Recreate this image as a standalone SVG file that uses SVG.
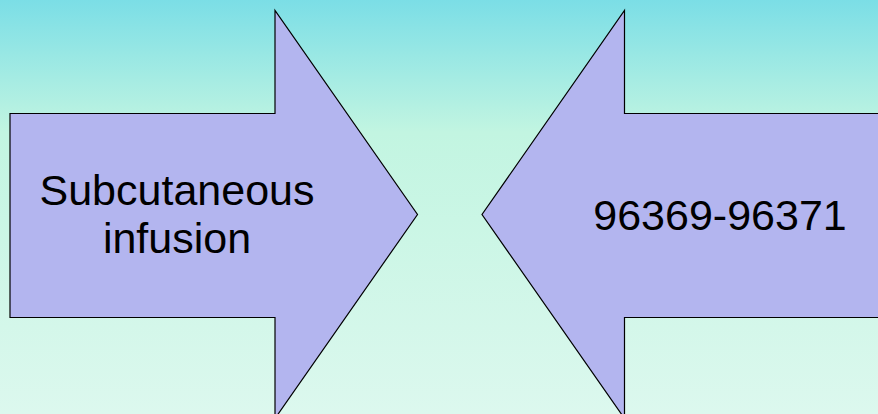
<svg xmlns="http://www.w3.org/2000/svg" width="878" height="414" viewBox="0 0 878 414">
<defs>
<linearGradient id="bg" x1="0" y1="0" x2="0" y2="1">
<stop offset="0" stop-color="#7bdee6"/>
<stop offset="0.32" stop-color="#c2f5e1"/>
<stop offset="1" stop-color="#dcf8ee"/>
</linearGradient>
<style>
.arrow{fill:#b3b5ef;stroke:#000;stroke-width:1.2;stroke-linejoin:miter}
.lbl{font-family:"Liberation Sans",Arial,sans-serif;font-size:43px;fill:#000;text-anchor:middle}
</style>
</defs>
<rect width="878" height="414" fill="url(#bg)"/>
<g id="arrow-left">
<polygon class="arrow" points="10,113.5 275,113.5 275,10.5 417.5,214.5 275,418.5 275,317.5 10,317.5"/>
<text class="lbl" x="177" y="205">Subcutaneous</text>
<text class="lbl" x="177" y="253">infusion</text>
</g>
<g id="arrow-right">
<polygon class="arrow" points="890,113.5 624.5,113.5 624.5,10.5 482,214.5 624.5,418.5 624.5,317.5 890,317.5"/>
<text class="lbl" x="720" y="230">96369-96371</text>
</g>
<g id="connectors"/>
</svg>
